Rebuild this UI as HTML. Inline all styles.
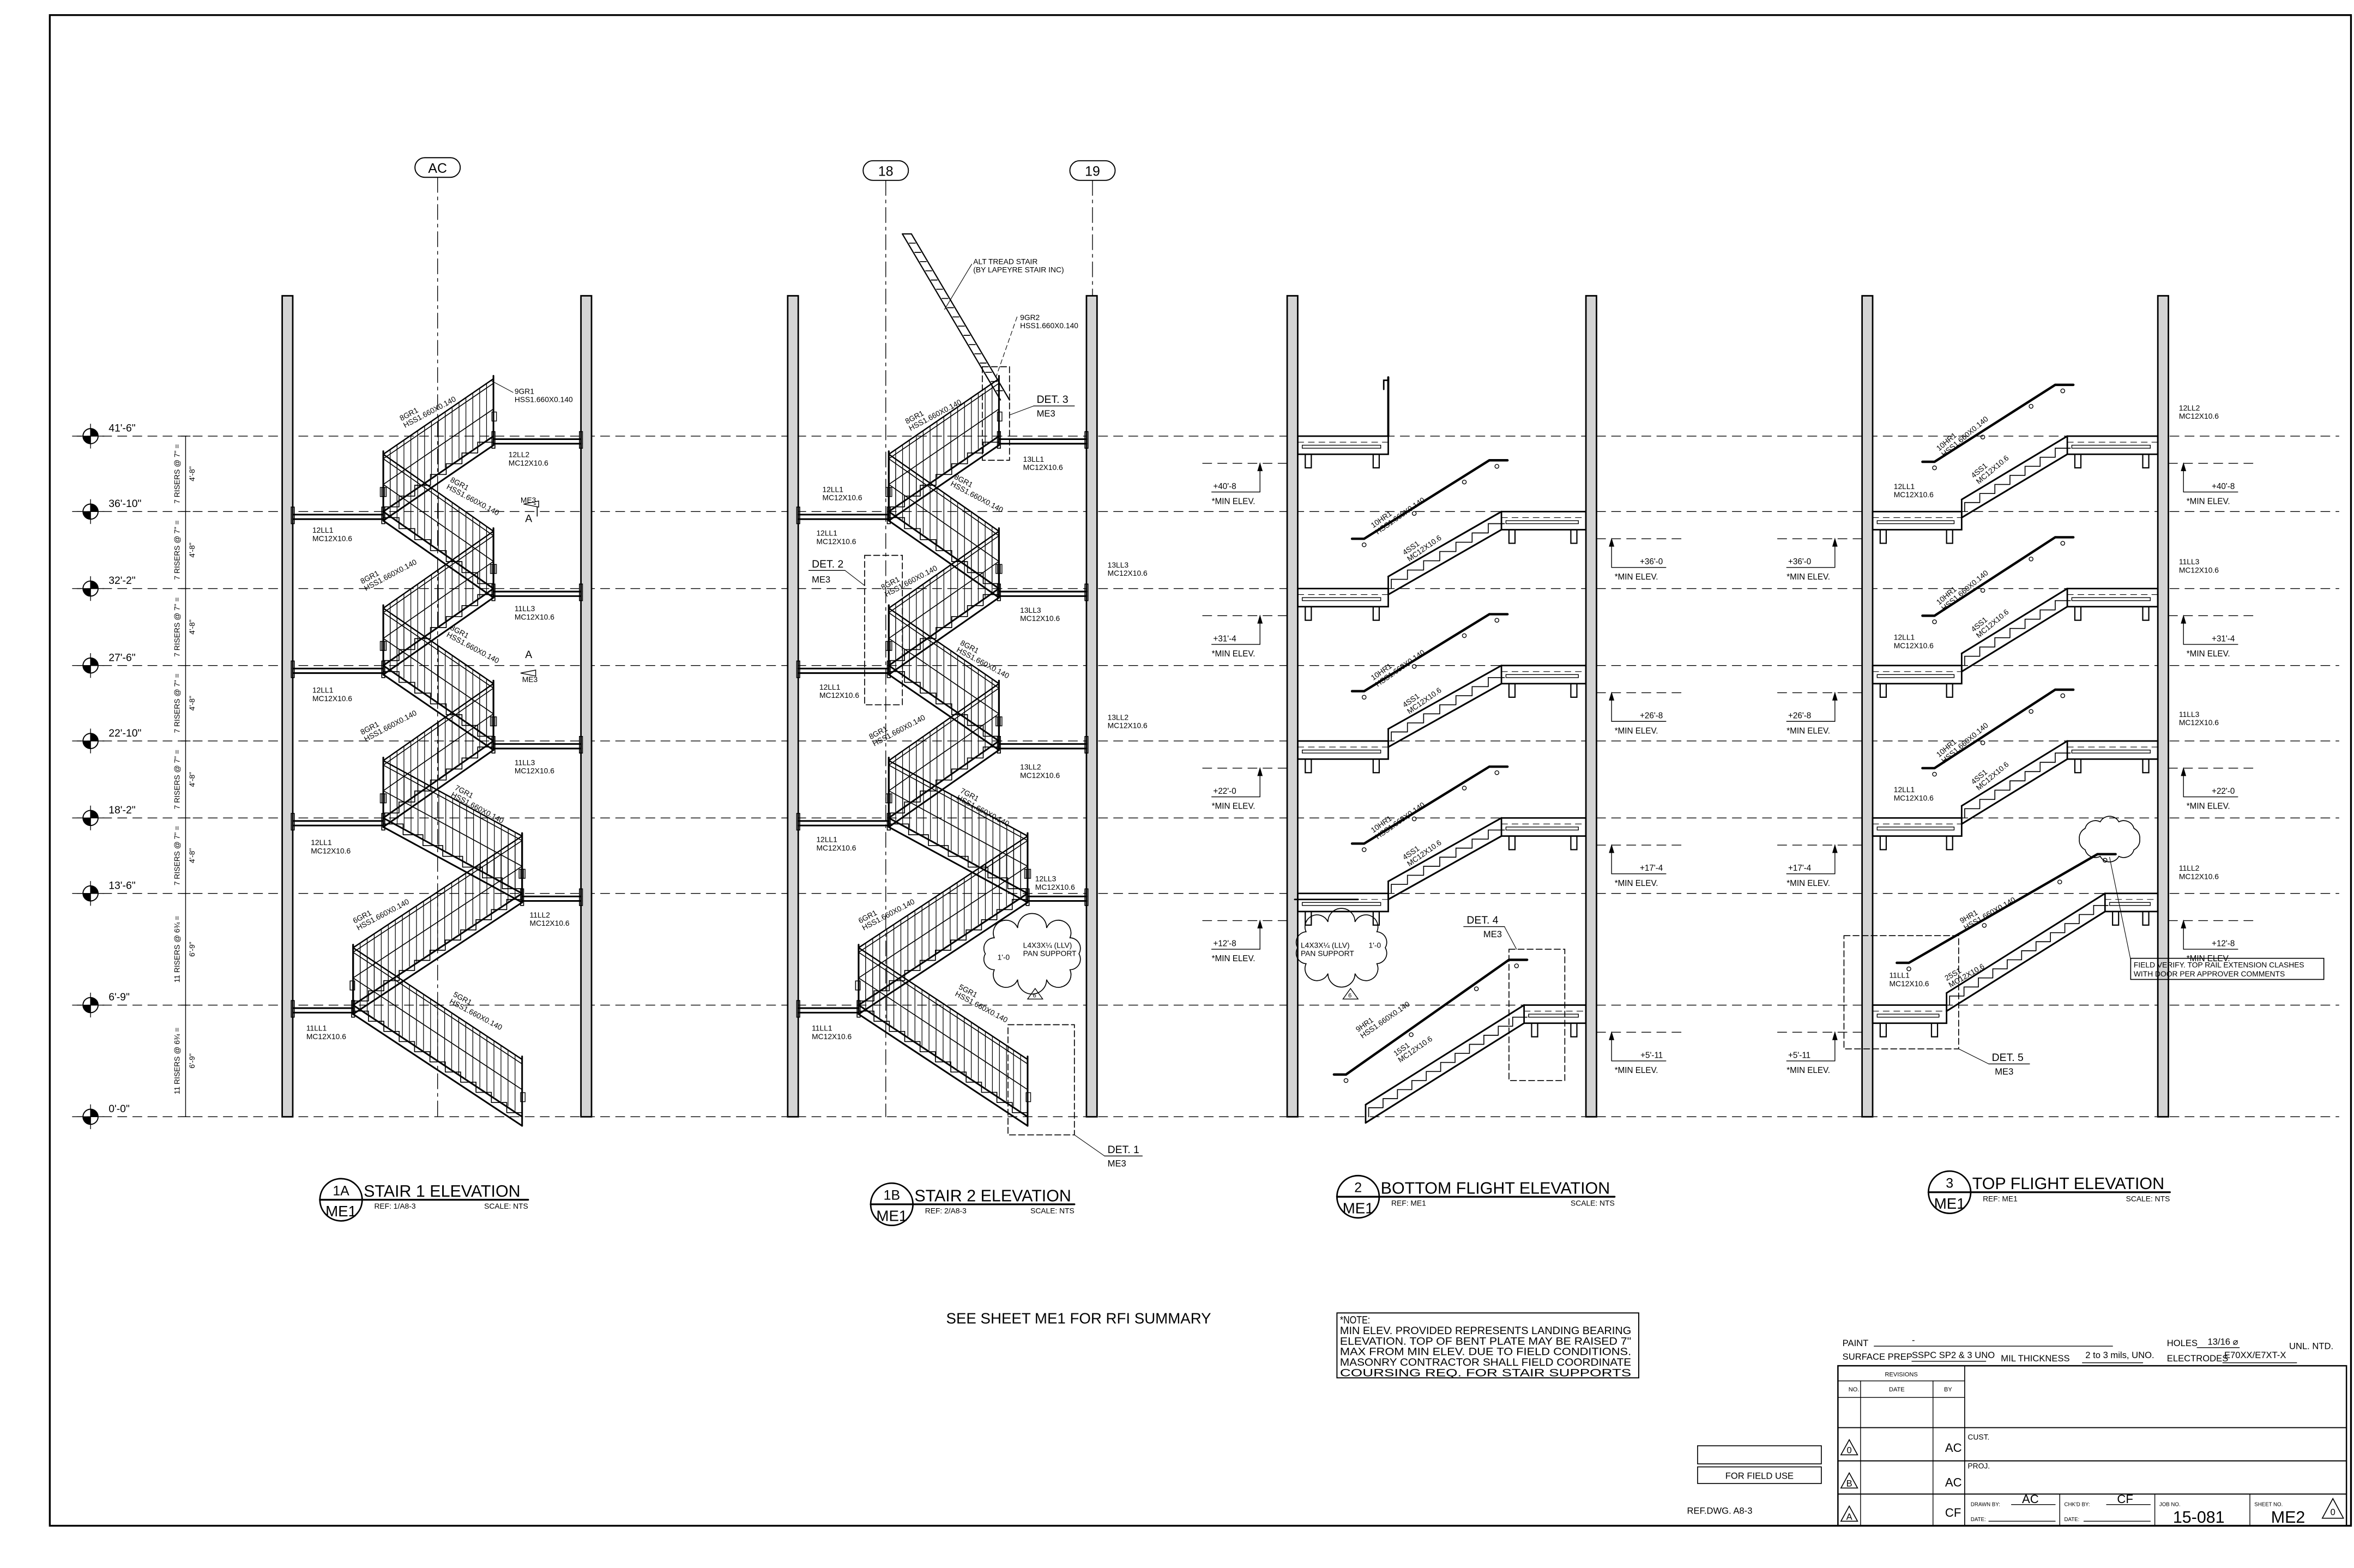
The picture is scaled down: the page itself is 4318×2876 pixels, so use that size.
<!DOCTYPE html>
<html><head><meta charset="utf-8"><style>
html,body{margin:0;padding:0;background:#fff;}
svg{display:block;}
text{font-family:"Liberation Sans",Arial,sans-serif;}
</style></head><body>
<svg id="s" xmlns="http://www.w3.org/2000/svg" width="4318" height="2876" viewBox="0 0 1560 1039" preserveAspectRatio="none">
<rect x="0" y="0" width="1560" height="1039" fill="#fff"/>
<g id="g" stroke="#000" fill="none" stroke-linecap="round"></g>
<g id="t" fill="#000" stroke="none"></g>
</svg>
<script>
let h='',tx='';
function L(x1,y1,x2,y2,w,ex){h+=`<line x1="${x1}" y1="${y1}" x2="${x2}" y2="${y2}" stroke-width="${w||0.6}" ${ex||''}/>`;}
function P(d,w,ex){h+=`<path d="${d}" stroke-width="${w||0.6}" ${ex||''}/>`;}
function R(x,y,w,hh,f,sw,ex){h+=`<rect x="${x}" y="${y}" width="${w}" height="${hh}" fill="${f||'none'}" stroke-width="${sw||0.6}" ${ex||''}/>`;}
function C(x,y,r,sw,f){h+=`<circle cx="${x}" cy="${y}" r="${r}" stroke-width="${sw||0.6}" fill="${f||'none'}"/>`;}
function T(x,y,t,sz,ex){tx+=`<text x="${x}" y="${y}" font-size="${sz||5.5}" ${ex||''}>${t}</text>`;}
function T2(x,y,a,b,sz){T(x,y,a,sz||5);T(x,y+5.5,b,sz||5);}
function TR(x,y,ang,a,b,sz){tx+=`<g transform="translate(${x},${y}) rotate(${ang})"><text x="0" y="0" font-size="${sz||5}">${a}</text>`+(b?`<text x="0" y="5.2" font-size="${sz||5}">${b}</text>`:'')+`</g>`;}
const DASH='stroke-dasharray="6,4"';
// frame
R(33,10,1525,1001,'none',1.2);
// levels
const LV=[289,339,390,441,491,542,592,666,740];
const LN=["41'-6\"","36'-10\"","32'-2\"","27'-6\"","22'-10\"","18'-2\"","13'-6\"","6'-9\"","0'-0\""];
LV.forEach((y,i)=>{
 L(48,y,1550,y,0.5,DASH);
 C(60,y,5,0.7);
 P(`M60 ${y} L65 ${y} A5 5 0 0 0 60 ${y-5} Z`,0.3,'fill="#000"');
 P(`M60 ${y} L55 ${y} A5 5 0 0 0 60 ${y+5} Z`,0.3,'fill="#000"');
 L(51,y,69,y,0.5);L(60,y-8,60,y+8,0.5);
 T(72,y-3,LN[i],7);
 L(120,y,126,y,0.5);
});
L(123,289,123,740,0.5);
for(let i=0;i<8;i++){const a=LV[i],b=LV[i+1],m=(a+b)/2;
 const r=i<6?'7 RISERS @ 7" =':'11 RISERS @ 6¾ =';const d=i<6?"4'-8\"":"6'-9\"";
 tx+=`<text transform="translate(119,${m}) rotate(-90)" text-anchor="middle" font-size="5">${r}</text>`;
 tx+=`<text transform="translate(129,${m}) rotate(-90)" text-anchor="middle" font-size="5">${d}</text>`;}
// grid bubbles
function bub(x,y,t){h+=`<rect x="${x-15}" y="${y-6.5}" width="30" height="13" rx="6.5" stroke-width="0.7"/>`;T(x,y+3.5,t,9,'text-anchor="middle"');L(x,y+6.5,x,740,0.5,'stroke-dasharray="10,3,2,3"');}
bub(290,111,'AC');bub(587,113,'18');bub(724,113,'19');
// columns
[187,385,522,720,853,1051,1234,1430].forEach(x=>R(x,196,7,544,'#d4d4d4',1));
// guard flight
function flight(xa,ya,xb,yb,n){
 L(xa,ya,xb,yb,1.1);L(xa,ya+6,xb,yb+6,1.1);
 let d='';for(let i=0;i<n;i++){const px=xa+(xb-xa)*i/n,py=ya+(yb-ya)*i/n,nx=xa+(xb-xa)*(i+1)/n,ny=ya+(yb-ya)*(i+1)/n;
  if(ny<py)d+=`M${px} ${py+4} L${px} ${ny+4} L${nx} ${ny+4} `;else d+=`M${px} ${py+4} L${nx} ${py+4} L${nx} ${ny+4} `;}
 P(d,0.6);
 L(xa,ya-38,xb,yb-38,0.9);L(xa,ya-35,xb,yb-35,0.6);L(xa,ya-18,xb,yb-18,0.6);
 const dx=xb-xa,cnt=Math.floor(Math.abs(dx)/4.5);
 for(let i=1;i<cnt;i++){const x=xa+dx*i/cnt,y=ya+(yb-ya)*i/cnt;L(x,y-1,x,y-38,0.45);}
 L(xa,ya+6,xa,ya-40,1.1);L(xb,yb+6,xb,yb-40,1.1);
 R(xa-2,ya-16,3,6,'none',0.5);R(xb-1,yb-16,3,6,'none',0.5);
}
function beam(x1,x2,y){L(x1,y+2,x2,y+2,1.1);L(x1,y+5,x2,y+5,1.1);R(Math.min(x1,x2)-1,y-3,2,11,'none',0.6);R(Math.max(x1,x2)-1,y-3,2,11,'none',0.6);}
function stair(o){
 flight(234+o,666,346+o,740,11);
 flight(234+o,666,346+o,592,11);
 flight(346+o,592,254+o,542,7);
 flight(254+o,542,327+o,491,7);
 flight(327+o,491,254+o,441,7);
 flight(254+o,441,327+o,390,7);
 flight(327+o,390,254+o,339,7);
 flight(254+o,339,327+o,289,7);
 beam(194+o,254+o,339);beam(194+o,254+o,441);beam(194+o,254+o,542);beam(194+o,234+o,666);
}
stair(0);stair(335);
beam(327,385,289);beam(327,385,390);beam(327,385,491);beam(346,385,592);
beam(662,720,289);beam(662,720,390);beam(662,720,491);beam(681,720,592);
// stair1 labels
T2(337,303,'12LL2','MC12X10.6');T2(341,405,'11LL3','MC12X10.6');T2(341,507,'11LL3','MC12X10.6');T2(351,608,'11LL2','MC12X10.6');
T2(207,353,'12LL1','MC12X10.6');T2(207,459,'12LL1','MC12X10.6');T2(206,560,'12LL1','MC12X10.6');T2(203,683,'11LL1','MC12X10.6');
T2(341,261,'9GR1','HSS1.660X0.140');L(325,252,340,260,0.4);
TR(266,279,-28,'8GR1','HSS1.660X0.140');TR(298,319,28,'8GR1','HSS1.660X0.140');TR(240,387,-28,'8GR1','HSS1.660X0.140');
TR(298,417,28,'8GR1','HSS1.660X0.140');TR(240,487,-28,'8GR1','HSS1.660X0.140');TR(301,523,28,'7GR1','HSS1.660X0.140');
TR(235,612,-28,'6GR1','HSS1.660X0.140');TR(300,660,28,'5GR1','HSS1.660X0.140');
// section marks
P('M347 334 L357 332 L357 336 Z',0.5);L(357,334,357,334);T(345,333,'ME3',5);L(355,334,354,334);L(356,336,356,342,0.6);T(348,346,'A',7);
T(346,452,'ME3',5);T(348,436,'A',7);P('M345 446 L355 444 L355 448 Z',0.5);
// stair2 labels
T2(678,306,'13LL1','MC12X10.6');T2(734,376,'13LL3','MC12X10.6');T2(676,406,'13LL3','MC12X10.6');T2(734,477,'13LL2','MC12X10.6');
T2(676,510,'13LL2','MC12X10.6');T2(686,584,'12LL3','MC12X10.6');
T2(545,326,'12LL1','MC12X10.6');T2(541,355,'12LL1','MC12X10.6');T2(543,457,'12LL1','MC12X10.6');T2(541,558,'12LL1','MC12X10.6');T2(538,683,'11LL1','MC12X10.6');
TR(601,281,-28,'8GR1','HSS1.660X0.140');TR(632,317,28,'8GR1','HSS1.660X0.140');TR(585,391,-28,'8GR1','HSS1.660X0.140');
TR(636,427,28,'8GR1','HSS1.660X0.140');TR(577,490,-28,'8GR1','HSS1.660X0.140');TR(636,525,28,'7GR1','HSS1.660X0.140');
TR(570,612,-28,'6GR1','HSS1.660X0.140');TR(635,655,28,'5GR1','HSS1.660X0.140');
T2(676,212,'9GR2','HSS1.660X0.140');L(674,210,660,250,0.4,'stroke-dasharray="3,2"');
T2(645,175,'ALT TREAD STAIR','(BY LAPEYRE STAIR INC)');L(644,175,626,205,0.4);
// ladder
L(598,155,663,265,0.8);L(604,155,669,265,0.8);L(598,155,604,155,0.8);
for(let i=1;i<18;i++){const x=598+i*65/18,y=155+i*110/18;L(x+1,y,x+5,y,0.6);}
// detail boxes
R(651,243,18,62,'none',0.6,'stroke-dasharray="4,2"');T(687,267,'DET. 3',7);L(685,269,712,269,0.5);T(687,276,'ME3',6);L(669,275,685,269,0.4);
R(573,368,25,99,'none',0.6,'stroke-dasharray="4,2"');T(538,376,'DET. 2',7);L(536,378,560,378,0.5);T(538,386,'ME3',6);L(560,378,573,388,0.4);
R(668,679,44,73,'none',0.6,'stroke-dasharray="4,2"');T(734,764,'DET. 1',7);L(732,766,757,766,0.5);T(734,773,'ME3',6);L(712,752,732,766,0.4);
// clouds
function cloud(cx,cy,w,hh){let d='';const n=10;for(let i=0;i<n;i++){const a=i/n*2*Math.PI,b=(i+1)/n*2*Math.PI;const x1=cx+w*Math.cos(a),y1=cy+hh*Math.sin(a),x2=cx+w*Math.cos(b),y2=cy+hh*Math.sin(b);d+=(i?'':`M${x1} ${y1} `)+`A7 7 0 0 1 ${x2} ${y2} `;}P(d+'Z',0.6);}
cloud(684,632,31,18);T2(678,628,'L4X3X¼ (LLV)','PAN SUPPORT');T(661,636,"1'-0",5);
P('M686 655 L681 662 L691 662 Z',0.5);T(684.5,661,'6',4);
cloud(889,628,29,18);T2(862,628,'L4X3X¼ (LLV)','PAN SUPPORT');T(907,628,"1'-0",5);
P('M895 655 L890 662 L900 662 Z',0.5);T(893.5,661,'6',4);
cloud(1398,556,20,12);
// platforms
function plat(x1,x2,y){R(x1,y,x2-x1,12,'none',1);L(x1,y+4,x2,y+4,0.4,'stroke-dasharray="4,3"');R(x1+3,y+6,x2-x1-8,2,'none',0.5);R(x1+5,y+12,4,9,'none',0.8);R(x2-10,y+12,4,9,'none',0.8);}
function sflight(xa,ya,xb,yb,n){
 L(xa,ya-8,xb,yb,1.1);L(xa,ya+4,xb,yb+12,1.1);L(xa,ya-8,xa,ya+4,1);
 let d='';for(let i=0;i<n;i++){const px=xa+(xb-xa)*i/n,py=ya-8+(yb-ya+8)*i/n,nx=xa+(xb-xa)*(i+1)/n,ny=ya-8+(yb-ya+8)*(i+1)/n;d+=`M${px+2} ${py+8} L${px+2} ${ny+8} L${nx+2} ${ny+8} `;}
 P(d,0.6);
}
function hrail(x1,y1,x2,y2){P(`M${x1-8} ${y1} L${x1} ${y1} L${x2} ${y2} L${x2+12} ${y2}`,1.6);
 [[x1,y1],[x1+(x2-x1)*0.4,y1+(y2-y1)*0.4],[x1+(x2-x1)*0.8,y1+(y2-y1)*0.8],[x2+5,y2]].forEach(p=>C(p[0],p[1]+4,1.3,0.5));}
function minel(x,y,t,side){ // side: left or right
 if(side<0){L(x-56,y+18,x,y+18,0.5,DASH);L(x-18,y+18,x-18,y+37,0.5);P(`M${x-18} ${y+18} L${x-19.5} ${y+23} L${x-16.5} ${y+23} Z`,0.4,'fill="#000"');L(x-50,y+37,x-18,y+37,0.5);T(x-49,y+35,t,5.5);T(x-50,y+45,'*MIN ELEV.',5.5);}
 else{L(x,y+18,x+56,y+18,0.5,DASH);L(x+10,y+18,x+10,y+37,0.5);P(`M${x+10} ${y+18} L${x+8.5} ${y+23} L${x+11.5} ${y+23} Z`,0.4,'fill="#000"');L(x+10,y+37,x+46,y+37,0.5);T(x+44,y+35,t,5.5,'text-anchor="end"');T(x+12,y+45,'*MIN ELEV.',5.5);}
}
// view 2
[289,390,491,592].forEach(y=>plat(860,920,y));
[339,441,542].forEach(y=>plat(995,1051,y));plat(1010,1051,666);
L(920,250,920,289,1.4);P('M920 252 L917 252 L917 258',1);
[[390,339],[491,441],[592,542]].forEach(p=>{sflight(920,p[0],995,p[1],7);hrail(904,p[0]-33,987,p[1]-34);
 TR(910,p[0]-40,-35,'10HR1','HSS1.660X0.140');TR(931,p[0]-22,-35,'4SS1','MC12X10.6');});
sflight(905,740,1010,666,11);hrail(892,712,1000,636);TR(900,684,-35,'9HR1','HSS1.660X0.140');TR(925,700,-35,'15S1','MC12X10.6');
L(858,596,900,596,1);
minel(853,289,"+40'-8",-1);minel(853,390,"+31'-4",-1);minel(853,491,"+22'-0",-1);minel(853,592,"+12'-8",-1);
minel(1058,339,"+36'-0",1);minel(1058,441,"+26'-8",1);minel(1058,542,"+17'-4",1);minel(1058,666,"+5'-11",1);
R(1000,629,37,87,'none',0.6,'stroke-dasharray="4,2"');T(972,612,'DET. 4',7);L(970,614,997,614,0.5);T(983,621,'ME3',6);L(997,614,1005,629,0.4);
// view 3
[339,441,542].forEach(y=>plat(1241,1300,y));plat(1241,1290,666);
[289,390,491].forEach(y=>plat(1370,1430,y));plat(1395,1430,592);
[[339,289],[441,390],[542,491]].forEach(p=>{sflight(1300,p[0],1370,p[1],7);hrail(1282,p[0]-33,1362,p[1]-34);
 TR(1285,p[0]-40,-40,'10HR1','HSS1.660X0.140');TR(1308,p[0]-22,-40,'4SS1','MC12X10.6');});
sflight(1290,666,1395,592,11);hrail(1265,638,1390,566);TR(1300,612,-30,'9HR1','HSS1.660X0.140');TR(1290,650,-30,'25S1','MC12X10.6');
minel(1234,339,"+36'-0",-1);minel(1234,441,"+26'-8",-1);minel(1234,542,"+17'-4",-1);minel(1234,666,"+5'-11",-1);
minel(1437,289,"+40'-8",1);minel(1437,390,"+31'-4",1);minel(1437,491,"+22'-0",1);minel(1437,592,"+12'-8",1);
T2(1444,272,'12LL2','MC12X10.6');T2(1444,374,'11LL3','MC12X10.6');T2(1444,475,'11LL3','MC12X10.6');T2(1444,577,'11LL2','MC12X10.6');
T2(1255,324,'12LL1','MC12X10.6');T2(1255,424,'12LL1','MC12X10.6');T2(1255,525,'12LL1','MC12X10.6');T2(1252,648,'11LL1','MC12X10.6');
R(1222,620,76,75,'none',0.6,'stroke-dasharray="4,2"');T(1320,703,'DET. 5',7);L(1318,705,1345,705,0.5);T(1322,712,'ME3',6);L(1298,695,1318,705,0.4);
R(1412,635,128,14,'none',0.6);T(1414,641,'FIELD VERIFY. TOP RAIL EXTENSION CLASHES',5);T(1414,647,'WITH DOOR PER APPROVER COMMENTS',5);L(1412,636,1398,568,0.4);
// titles
function title(cx,cy,n,t,x2,ref){C(cx,cy,14,1);L(cx-14,cy,x2,cy,1.2);T(cx,cy-3,n,9,'text-anchor="middle"');T(cx,cy+11,'ME1',10,'text-anchor="middle"');T(cx+15,cy-2,t,11);T(cx+22,cy+6,ref,5);T(x2,cy+6,'SCALE: NTS',5,'text-anchor="end"');}
title(226,795,'1A','STAIR 1 ELEVATION',350,'REF: 1/A8-3');
title(591,798,'1B','STAIR 2 ELEVATION',712,'REF: 2/A8-3');
title(900,793,'2','BOTTOM FLIGHT ELEVATION',1070,'REF: ME1');
title(1292,790,'3','TOP FLIGHT ELEVATION',1438,'REF: ME1');
T(627,877,'SEE SHEET ME1 FOR RFI SUMMARY',10);
R(886,870,200,43,'none',0.7);
['*NOTE:','MIN ELEV. PROVIDED REPRESENTS LANDING BEARING','ELEVATION.  TOP OF BENT PLATE MAY BE RAISED 7"','MAX FROM MIN ELEV. DUE TO FIELD CONDITIONS.','MASONRY CONTRACTOR SHALL FIELD COORDINATE','COURSING REQ. FOR STAIR SUPPORTS'].forEach((s,i)=>T(888,877+i*7,s,7,'textLength="'+(i?193:20)+'" lengthAdjust="spacingAndGlyphs"'));
// field use
R(1125,958,82,12,'none',0.6);R(1125,972,82,11,'none',0.6);T(1166,980,'FOR FIELD USE',6,'text-anchor="middle"');T(1118,1003,'REF.DWG. A8-3',6,'font-family="Liberation Serif"');
// title block
T(1221,892,'PAINT',6);L(1242,892,1400,892,0.5);T(1267,890,'-',6);
T(1221,901,'SURFACE PREP',6);T(1267,900,'SSPC SP2 &amp; 3 UNO',6);L(1267,902,1316,902,0.5);
T(1326,902,'MIL THICKNESS',6);T(1382,900,'2 to 3 mils, UNO.',6);L(1380,903,1420,903,0.5);
T(1436,892,'HOLES',6);L(1456,893,1484,893,0.5);T(1463,891,'13/16 ⌀',6);T(1517,894,'UNL. NTD.',6);
T(1436,902,'ELECTRODES',6);T(1474,900,'E70XX/E7XT-X',6);L(1473,903,1522,903,0.5);
R(1218,905,337,106,'none',0.9);
L(1218,915,1302,915,0.5);L(1218,926,1302,926,0.5);L(1302,905,1302,1011,0.6);
L(1233,915,1233,1011,0.5);L(1281,915,1281,1011,0.5);
L(1218,946,1555,946,0.7);L(1218,968,1555,968,0.7);L(1218,990,1555,990,0.7);
L(1365,990,1365,1011,0.5);L(1428,990,1428,1011,0.5);L(1491,990,1491,1011,0.5);
const SF='font-family="Liberation Serif"';
T(1260,912,'REVISIONS',4,SF+' text-anchor="middle"');T(1225,922,'NO.',4,SF);T(1257,922,'DATE',4,SF+' text-anchor="middle"');T(1291,922,'BY',4,SF+' text-anchor="middle"');
[['0',963],['B',985],['A',1007]].forEach(a=>{P(`M1225.5 ${a[1]-9} L1220 ${a[1]+1} L1231 ${a[1]+1} Z`,0.6);T(1225.5,a[1],a[0],6,'text-anchor="middle"');});
T(1289,962,'AC',8);T(1289,985,'AC',8);T(1289,1005,'CF',8);
T(1304,954,'CUST.',5,SF);T(1304,973,'PROJ.',5,SF);
T(1306,998,'DRAWN BY:',3.5,SF);L(1333,997,1362,997,0.5);T(1340,996,'AC',8);T(1306,1008,'DATE:',3.5,SF);L(1318,1008,1362,1008,0.5);
T(1368,998,"CHK'D BY:",3.5,SF);L(1396,997,1425,997,0.5);T(1403,996,'CF',8);T(1368,1008,'DATE:',3.5,SF);L(1381,1008,1425,1008,0.5);
T(1431,998,'JOB NO.',3.5,SF);T(1440,1009,'15-081',11);
T(1494,998,'SHEET NO.',3.5,SF);T(1505,1009,'ME2',11);P('M1546 993 L1539 1006 L1553 1006 Z',0.6);T(1546,1004,'0',6,'text-anchor="middle"');
document.getElementById('g').innerHTML=h;document.getElementById('t').innerHTML=tx;
</script>
</body></html>
